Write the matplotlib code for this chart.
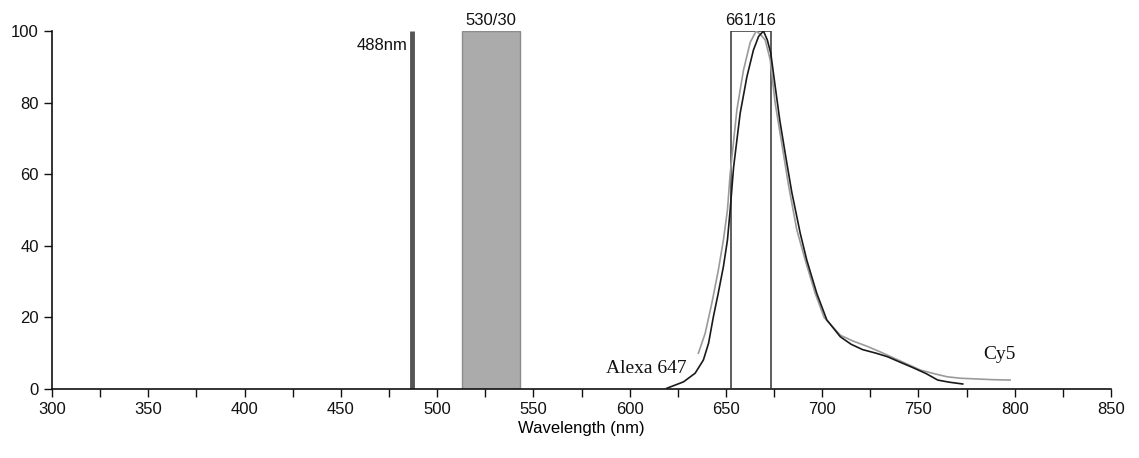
import matplotlib
matplotlib.use("Agg")
import matplotlib.pyplot as plt
from matplotlib.patches import Rectangle

plt.rcParams['font.family'] = ['Liberation Sans Narrow', 'Liberation Sans', 'DejaVu Sans']

# Data
alexa_x = [619.3, 628, 634, 638.3, 641, 643.5, 646, 648.7, 650.8, 652.2, 654, 657.4, 660.9,
           664.3, 667, 669.5, 671.5, 673.3, 675.6, 678, 680.8, 684.2, 688.6, 692, 697.2,
           702.4, 709.4, 715, 721, 728, 734, 740, 747, 754, 760, 766, 773]
alexa_y = [0.2, 2, 4.4, 8.1, 12.8, 20.2, 26.7, 34.2, 41.6, 50, 62, 77, 87.2,
           94.7, 98.5, 100, 97.5, 93.8, 84.5, 75, 65.8, 55, 43.5, 36, 26.7,
           19.3, 14.6, 12.5, 11, 10, 9, 7.6, 6, 4.3, 2.5, 1.9, 1.4]
cy5_x = [635.7, 639.2, 642.7, 646, 648.7, 650.8, 652.2, 655.7, 659.1, 662.6, 665.7, 668,
         670.4, 673, 675.6, 679, 682.5, 686.8, 691.2, 696.4, 701, 709.5, 716, 723, 730,
         737, 744, 751, 758, 765, 772, 780.5, 789, 797.6]
cy5_y = [10, 15.5, 24, 33, 41.6, 50, 60, 78, 89, 96.8, 100, 99,
         97.5, 92, 79.8, 68.6, 57, 44.5, 36, 26.7, 20, 15, 13.4, 12, 10.4,
         8.7, 7, 5.3, 4.3, 3.4, 3.0, 2.8, 2.6, 2.5]
laser_nm = 487
laser_label = "488nm"
filter1 = (512.8, 543.0)
filter1_label = "530/30"
filter2 = (652.6, 673.2)
filter2_label = "661/16"
x_ticks = [300, 350, 400, 450, 500, 550, 600, 650, 700, 750, 800, 850]
y_ticks = [0, 20, 40, 60, 80, 100]

fig = plt.figure(figsize=(11.39, 4.58), dpi=100)
ax = fig.add_axes([52/1139, 69/458, (1111-52)/1139, (389-31)/458])
ax.set_xlim(300, 850)
ax.set_ylim(0, 100)

# filter 530/30 (filled)
ax.add_patch(Rectangle((filter1[0], 0), filter1[1]-filter1[0], 100,
                       facecolor='#ababab', edgecolor='#8c8c8c', lw=1, zorder=1))
# filter 661/16 (outline)
ax.add_patch(Rectangle((filter2[0], 0), filter2[1]-filter2[0], 100,
                       facecolor='none', edgecolor='#333333', lw=1.1, zorder=3))
# laser line
ax.plot([laser_nm, laser_nm], [0, 100], color='#555555', lw=3.5, solid_capstyle='butt', zorder=2)

# spectra
ax.plot(cy5_x, cy5_y, color='#9a9a9a', lw=1.2, zorder=4)
ax.plot(alexa_x, alexa_y, color='#1a1a1a', lw=1.2, zorder=5)

# labels
ax.text(laser_nm - 2.5, 96, laser_label, ha='right', va='center', fontsize=12, color='#111111')
ax.text(sum(filter1)/2, 100.8, filter1_label, ha='center', va='bottom', fontsize=12, color='#111111')
ax.text(sum(filter2)/2, 100.8, filter2_label, ha='center', va='bottom', fontsize=12, color='#111111')
ax.text(629.5, 3.3, "Alexa 647", ha='right', va='bottom', fontsize=14,
        family=['Liberation Serif', 'DejaVu Serif'], color='#111111')
ax.text(792, 9.5, "Cy5", ha='center', va='center', fontsize=14,
        family=['Liberation Serif', 'DejaVu Serif'], color='#111111')

ax.spines['top'].set_visible(False)
ax.spines['right'].set_visible(False)
for s in ('left', 'bottom'):
    ax.spines[s].set_linewidth(1.2)
    ax.spines[s].set_color('#111111')

ax.set_xticks(x_ticks)
ax.set_xticks([x + 25 for x in x_ticks[:-1]], minor=True)
ax.set_yticks(y_ticks)
ax.tick_params(axis='both', which='both', direction='out', length=6, width=1, colors='#111111', labelsize=12)
ax.tick_params(axis='x', pad=3)
ax.set_xlabel("Wavelength (nm)", fontsize=12, labelpad=3)

fig.savefig("out.png", dpi=100)
